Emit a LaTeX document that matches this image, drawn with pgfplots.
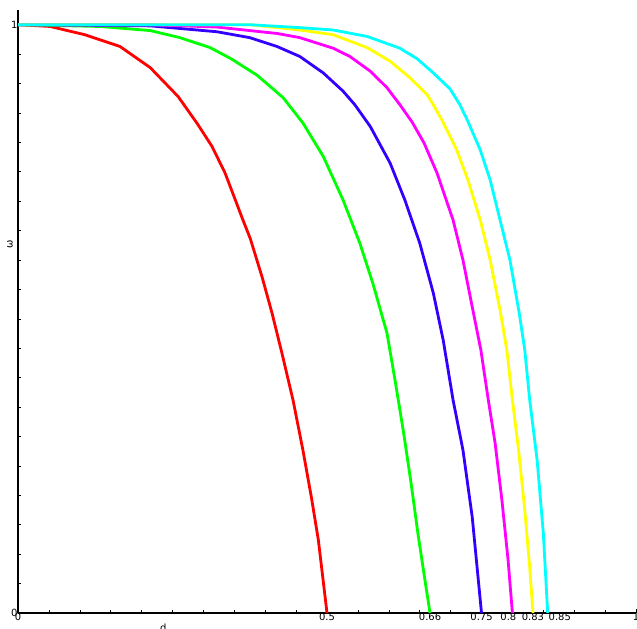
\documentclass[border=0pt]{standalone}
\usepackage{fontspec}
\setmainfont{DejaVu Sans}
\usepackage{pgfplots}
\pgfplotsset{compat=1.18}
\usetikzlibrary{calc}

\definecolor{cred}{RGB}{255,0,0}
\definecolor{cgreen}{RGB}{0,255,0}
\definecolor{cblue}{RGB}{51,0,255}
\definecolor{cmag}{RGB}{255,0,255}
\definecolor{cyel}{RGB}{255,255,0}
\definecolor{ccyan}{RGB}{0,255,255}

\begin{document}
\begin{tikzpicture}
\begin{axis}[
    scale only axis,
    width=618bp, height=603bp,
    xmin=0, xmax=1,
    ymin=0, ymax=1.025,
    axis x line*=bottom,
    axis y line*=left,
    axis line style={line width=1.8bp, -},
    xtick={0,0.5,0.6667,0.75,0.8,0.8333,0.8571,1},
    xticklabels={0,0.5,0.66,0.75,\hspace{-8bp}0.8,0.83,\makebox[0pt][l]{\hspace{1bp}0.85},1},
    minor xtick={0.05,0.1,...,0.951},
    ytick={0,1},
    minor ytick={0.05,0.1,...,0.951},
    tick align=inside,
    major tick length=4bp,
    minor tick length=3bp,
    tick style={black, line width=0.6bp},
    tick label style={font=\fontsize{10}{12}\selectfont},
    xticklabel style={yshift=3bp},
    yticklabel style={xshift=3bp},
    /pgf/number format/assume math mode=true,
    clip=false,
    every axis plot/.append style={line width=2.8bp, line join=round},
]
\addplot[cred] coordinates {
(0,1) (0.052,0.997) (0.108,0.983) (0.165,0.963) (0.214,0.927) (0.259,0.878)
(0.290,0.832) (0.314,0.793) (0.335,0.748) (0.364,0.668) (0.376,0.636)
(0.395,0.571) (0.411,0.510) (0.427,0.442) (0.445,0.362) (0.461,0.277)
(0.475,0.195) (0.486,0.124) (0.5,0)
};
\addplot[cgreen] coordinates {
(0,1) (0.133,0.997) (0.214,0.990) (0.262,0.978) (0.311,0.961) (0.345,0.942)
(0.387,0.914) (0.429,0.876) (0.461,0.833) (0.494,0.776) (0.526,0.702)
(0.553,0.629) (0.574,0.561) (0.597,0.476) (0.611,0.390) (0.624,0.306)
(0.636,0.221) (0.647,0.136) (0.657,0.066) (0.6667,0)
};
\addplot[cblue] coordinates {
(0,1) (0.214,0.998) (0.322,0.988) (0.375,0.978) (0.419,0.963) (0.456,0.946)
(0.494,0.918) (0.526,0.887) (0.545,0.864) (0.570,0.827) (0.602,0.765)
(0.626,0.702) (0.650,0.629) (0.672,0.544) (0.688,0.464) (0.704,0.362)
(0.720,0.277) (0.735,0.163) (0.75,0)
};
\addplot[cmag] coordinates {
(0,1) (0.214,1.0) (0.322,0.996) (0.375,0.990) (0.420,0.985) (0.456,0.978)
(0.510,0.960) (0.537,0.946) (0.570,0.921) (0.597,0.893) (0.618,0.864)
(0.638,0.834) (0.657,0.799) (0.678,0.748) (0.704,0.668) (0.720,0.600)
(0.736,0.515) (0.749,0.447) (0.761,0.362) (0.772,0.289) (0.783,0.192)
(0.793,0.090) (0.8,0)
};
\addplot[cyel] coordinates {
(0,1) (0.375,1.0) (0.456,0.991) (0.510,0.983) (0.565,0.961) (0.602,0.938)
(0.634,0.910) (0.662,0.881) (0.672,0.864) (0.686,0.838) (0.710,0.787)
(0.728,0.736) (0.748,0.668) (0.764,0.600) (0.780,0.515) (0.791,0.447)
(0.800,0.362) (0.810,0.277) (0.820,0.175) (0.828,0.078) (0.8333,0)
};
\addplot[ccyan] coordinates {
(0,1) (0.375,1.0) (0.456,0.995) (0.510,0.991) (0.565,0.980) (0.618,0.960)
(0.646,0.942) (0.672,0.918) (0.699,0.891) (0.715,0.864) (0.727,0.838)
(0.748,0.787) (0.764,0.736) (0.780,0.668) (0.796,0.600) (0.811,0.510)
(0.820,0.447) (0.828,0.362) (0.840,0.260) (0.850,0.136) (0.8571,0)
};
\node[font=\fontsize{10}{12}\selectfont, anchor=north] at ($(axis cs:0.235,0)+(0,-7bp)$) {d};
\node[font=\fontsize{10}{12}\selectfont, rotate=90] at ($(axis cs:0,0.626)+(-8bp,0)$) {ω};
\end{axis}
\pgfresetboundingbox
\path ($(current axis.origin)+(-18bp,-16bp)$) rectangle ($(current axis.origin)+(619bp,613bp)$);
\end{tikzpicture}
\end{document}
